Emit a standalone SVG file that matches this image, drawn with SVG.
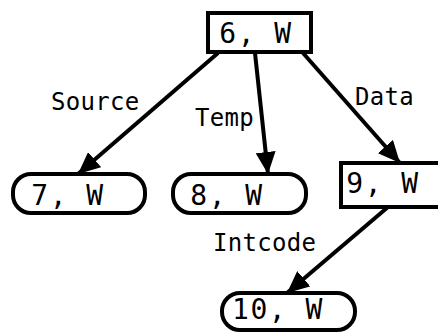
<svg xmlns="http://www.w3.org/2000/svg" width="438" height="332" viewBox="0 0 438 332">
<style>
.box{fill:#fff;stroke:#000;stroke-width:4}
.nt{font-family:"DejaVu Sans Mono","Liberation Mono",monospace;font-size:28px;fill:#000;letter-spacing:1.5px}
.et{font-family:"DejaVu Sans Mono","Liberation Mono",monospace;font-size:24px;fill:#000;letter-spacing:0.3px}
.edge{stroke:#000;stroke-width:4;fill:none;marker-end:url(#ah)}
</style>
<defs>
<marker id="ah" markerUnits="userSpaceOnUse" markerWidth="24" markerHeight="20" refX="22" refY="10" orient="auto">
<path d="M0,0 L22,10 L0,20 Z" fill="#000"/>
</marker>
</defs>
<rect width="438" height="332" fill="#fff"/>
<g id="connectors">
<line class="edge" x1="218" y1="53" x2="78" y2="174"/>
<line class="edge" x1="255" y1="53" x2="268" y2="174"/>
<line class="edge" x1="303" y1="53" x2="400" y2="163"/>
<line class="edge" x1="388" y1="207" x2="287" y2="293"/>
<text class="et" x="51" y="110">Source</text>
<text class="et" x="195" y="126">Temp</text>
<text class="et" x="355" y="105">Data</text>
<text class="et" x="213" y="251">Intcode</text>
</g>
<g id="n6">
<rect class="box" x="208" y="13" width="103" height="39"/>
<text class="nt" x="256" y="43" text-anchor="middle">6, W</text>
</g>
<g id="n7">
<rect class="box" x="13" y="174" width="132" height="39" rx="18"/>
<text class="nt" x="68" y="205" text-anchor="middle">7, W</text>
</g>
<g id="n8">
<rect class="box" x="173" y="174" width="133" height="39" rx="18"/>
<text class="nt" x="227" y="205" text-anchor="middle">8, W</text>
</g>
<g id="n9">
<rect class="box" x="341" y="163" width="120" height="44"/>
<text class="nt" x="383" y="193" text-anchor="middle">9, W</text>
</g>
<g id="n10">
<rect class="box" x="222" y="293" width="133" height="37" rx="18"/>
<text class="nt" x="278" y="319" text-anchor="middle">10, W</text>
</g>
</svg>
